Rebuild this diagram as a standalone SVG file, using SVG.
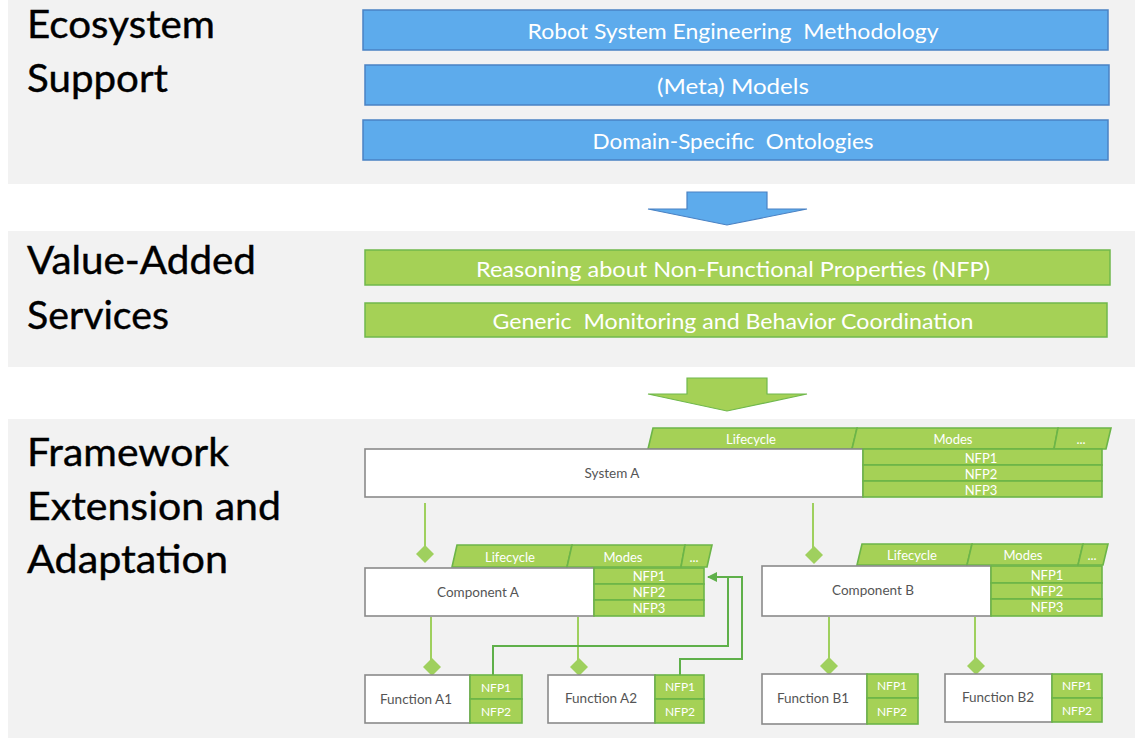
<svg xmlns="http://www.w3.org/2000/svg" width="1135" height="738" viewBox="0 0 1135 738">
<defs>
<style>
.panel{fill:#f2f2f2}
.title{font-family:Lato,"Liberation Sans",sans-serif;font-size:38px;fill:#000;stroke:#000;stroke-width:0.4}
.bbar{fill:#5dabec;stroke:#4a82c4;stroke-width:1.5}
.gbar{fill:#a5d156;stroke:#70b84c;stroke-width:1.5}
.bartxt{font-family:Lato,"Liberation Sans",sans-serif;font-size:21px;fill:#fff;text-anchor:middle;dominant-baseline:central}
.box{fill:#fff;stroke:#8a8a8a;stroke-width:1.6}
.gcell{fill:#a5d156;stroke:#6cb548;stroke-width:1.6}
.name{font-family:Lato,"Liberation Sans",sans-serif;font-size:13.5px;fill:#555;text-anchor:middle;dominant-baseline:central}
.tab{font-family:Lato,"Liberation Sans",sans-serif;font-size:13px;fill:#fff;text-anchor:middle;dominant-baseline:central}
.nfp{font-family:Lato,"Liberation Sans",sans-serif;font-size:13px;fill:#fff;text-anchor:middle;dominant-baseline:central}
.nfps{font-family:Lato,"Liberation Sans",sans-serif;font-size:12px;fill:#fff;text-anchor:middle;dominant-baseline:central}
.conn{fill:none;stroke:#9fd05e;stroke-width:2}
.fb{fill:none;stroke:#5fb04a;stroke-width:2}
.dia{fill:#9fd05e}
</style>
<marker id="arr" viewBox="0 0 10 10" refX="9" refY="5" markerWidth="5" markerHeight="5" orient="auto">
<path d="M0,0 L10,5 L0,10 z" fill="#5fb04a"/>
</marker>
</defs>
<rect width="1135" height="738" fill="#fff"/>
<rect class="panel" x="8" y="0" width="1127" height="184"/>
<rect class="panel" x="8" y="231" width="1127" height="136"/>
<rect class="panel" x="8" y="419" width="1127" height="319"/>

<g id="titles">
<text class="title" x="27" y="38" textLength="188" lengthAdjust="spacingAndGlyphs">Ecosystem</text>
<text class="title" x="27" y="92" textLength="141" lengthAdjust="spacingAndGlyphs">Support</text>
<text class="title" x="27" y="274" textLength="229" lengthAdjust="spacingAndGlyphs">Value-Added</text>
<text class="title" x="27" y="329" textLength="142" lengthAdjust="spacingAndGlyphs">Services</text>
<text class="title" x="27" y="466" textLength="202" lengthAdjust="spacingAndGlyphs">Framework</text>
<text class="title" x="27" y="520" textLength="254" lengthAdjust="spacingAndGlyphs">Extension and</text>
<text class="title" x="27" y="573" textLength="201" lengthAdjust="spacingAndGlyphs">Adaptation</text>
</g>

<g id="bar-methodology"><rect class="bbar" x="363" y="10" width="745" height="40"/><text class="bartxt" x="733" y="30" textLength="411" lengthAdjust="spacingAndGlyphs" xml:space="preserve">Robot System Engineering  Methodology</text></g>
<g id="bar-models"><rect class="bbar" x="365" y="65" width="744" height="40"/><text class="bartxt" x="733" y="85" textLength="152" lengthAdjust="spacingAndGlyphs">(Meta) Models</text></g>
<g id="bar-ontologies"><rect class="bbar" x="363" y="120" width="745" height="40"/><text class="bartxt" x="733" y="140" textLength="281" lengthAdjust="spacingAndGlyphs" xml:space="preserve">Domain-Specific  Ontologies</text></g>

<g id="arrow-blue"><polygon points="687,192 767,192 767,209 807,209 727,225 648,209 687,209" fill="#5dabec" stroke="#4a82c4" stroke-width="1.2"/></g>

<g id="bar-reasoning"><rect class="gbar" x="365" y="250" width="745" height="35"/><text class="bartxt" x="733" y="268" textLength="514" lengthAdjust="spacingAndGlyphs">Reasoning about Non-Functional Properties (NFP)</text></g>
<g id="bar-monitoring"><rect class="gbar" x="365" y="303" width="742" height="34"/><text class="bartxt" x="733" y="320" textLength="481" lengthAdjust="spacingAndGlyphs" xml:space="preserve">Generic  Monitoring and Behavior Coordination</text></g>

<g id="arrow-green"><polygon points="687,378 767,378 767,394 807,394 727,411 648,394 687,394" fill="#a5d156" stroke="#70b84c" stroke-width="1.2"/></g>

<g id="connectors">
<path class="conn" d="M425,503 V548"/>
<path class="conn" d="M813,503 V548"/>
<path class="conn" d="M431,617 V661"/>
<path class="conn" d="M578,617 V661"/>
<path class="conn" d="M829,617 V660"/>
<path class="conn" d="M975,617 V660"/>
<polygon class="dia" points="425,545 434,554 425,563 416,554"/>
<polygon class="dia" points="814,546 823,555 814,564 805,555"/>
<polygon class="dia" points="432,658 441,667 432,676 423,667"/>
<polygon class="dia" points="579,658 588,667 579,676 570,667"/>
<polygon class="dia" points="829,657 838,666 829,675 820,666"/>
<polygon class="dia" points="976,657 985,666 976,675 967,666"/>
<path class="fb" d="M493,675 V646 H728 V577"/>
<path class="fb" d="M680,675 V659 H742 V577 H708" marker-end="url(#arr)"/>
</g>

<g id="system-a">
<polygon class="gcell" points="648,449 653,428 857,428 852,449"/>
<polygon class="gcell" points="852,449 857,428 1058,428 1054,449"/>
<polygon class="gcell" points="1054,449 1058,428 1111,428 1106,449"/>
<text class="tab" x="751" y="439">Lifecycle</text>
<text class="tab" x="953" y="439">Modes</text>
<text class="tab" x="1081" y="439">...</text>
<rect class="box" x="365" y="449" width="498" height="48"/>
<text class="name" x="612" y="473">System A</text>
<rect class="gcell" x="863" y="449" width="239" height="16"/>
<rect class="gcell" x="863" y="465" width="239" height="16"/>
<rect class="gcell" x="863" y="481" width="239" height="16"/>
<text class="nfp" x="981" y="458">NFP1</text>
<text class="nfp" x="981" y="474">NFP2</text>
<text class="nfp" x="981" y="490">NFP3</text>
</g>

<g id="component-a">
<polygon class="gcell" points="452,567 457,545 572,545 567,567"/>
<polygon class="gcell" points="567,567 572,545 685,545 681,567"/>
<polygon class="gcell" points="681,567 685,545 712,545 707,567"/>
<text class="tab" x="510" y="557">Lifecycle</text>
<text class="tab" x="623" y="557">Modes</text>
<text class="tab" x="694" y="557">...</text>
<rect class="box" x="365" y="568" width="229" height="48"/>
<text class="name" x="478" y="592">Component A</text>
<rect class="gcell" x="594" y="568" width="110" height="16"/>
<rect class="gcell" x="594" y="584" width="110" height="16"/>
<rect class="gcell" x="594" y="600" width="110" height="16"/>
<text class="nfp" x="649" y="576">NFP1</text>
<text class="nfp" x="649" y="592">NFP2</text>
<text class="nfp" x="649" y="608">NFP3</text>
</g>

<g id="component-b">
<polygon class="gcell" points="857,565 862,544 972,544 967,565"/>
<polygon class="gcell" points="967,565 972,544 1083,544 1078,565"/>
<polygon class="gcell" points="1078,565 1083,544 1108,544 1103,565"/>
<text class="tab" x="912" y="555">Lifecycle</text>
<text class="tab" x="1023" y="555">Modes</text>
<text class="tab" x="1092" y="555">...</text>
<rect class="box" x="762" y="566" width="229" height="50"/>
<text class="name" x="873" y="590">Component B</text>
<rect class="gcell" x="991" y="566" width="111" height="17"/>
<rect class="gcell" x="991" y="583" width="111" height="16"/>
<rect class="gcell" x="991" y="599" width="111" height="17"/>
<text class="nfp" x="1047" y="575">NFP1</text>
<text class="nfp" x="1047" y="591">NFP2</text>
<text class="nfp" x="1047" y="607">NFP3</text>
</g>

<g id="function-a1">
<rect class="box" x="365" y="675" width="105" height="48"/>
<text class="name" x="416" y="699">Function A1</text>
<rect class="gcell" x="470" y="675" width="52" height="24"/>
<rect class="gcell" x="470" y="699" width="52" height="24"/>
<text class="nfps" x="496" y="687">NFP1</text>
<text class="nfps" x="496" y="711">NFP2</text>
</g>

<g id="function-a2">
<rect class="box" x="548" y="675" width="107" height="48"/>
<text class="name" x="601" y="698">Function A2</text>
<rect class="gcell" x="655" y="675" width="49" height="24"/>
<rect class="gcell" x="655" y="699" width="49" height="24"/>
<text class="nfps" x="680" y="686">NFP1</text>
<text class="nfps" x="680" y="711">NFP2</text>
</g>

<g id="function-b1">
<rect class="box" x="762" y="674" width="105" height="50"/>
<text class="name" x="813" y="698">Function B1</text>
<rect class="gcell" x="867" y="674" width="51" height="24"/>
<rect class="gcell" x="867" y="698" width="51" height="26"/>
<text class="nfps" x="892" y="685">NFP1</text>
<text class="nfps" x="892" y="711">NFP2</text>
</g>

<g id="function-b2">
<rect class="box" x="945" y="674" width="107" height="48"/>
<text class="name" x="998" y="697">Function B2</text>
<rect class="gcell" x="1052" y="674" width="50" height="24"/>
<rect class="gcell" x="1052" y="698" width="50" height="24"/>
<text class="nfps" x="1077" y="685">NFP1</text>
<text class="nfps" x="1077" y="710">NFP2</text>
</g>
</svg>
